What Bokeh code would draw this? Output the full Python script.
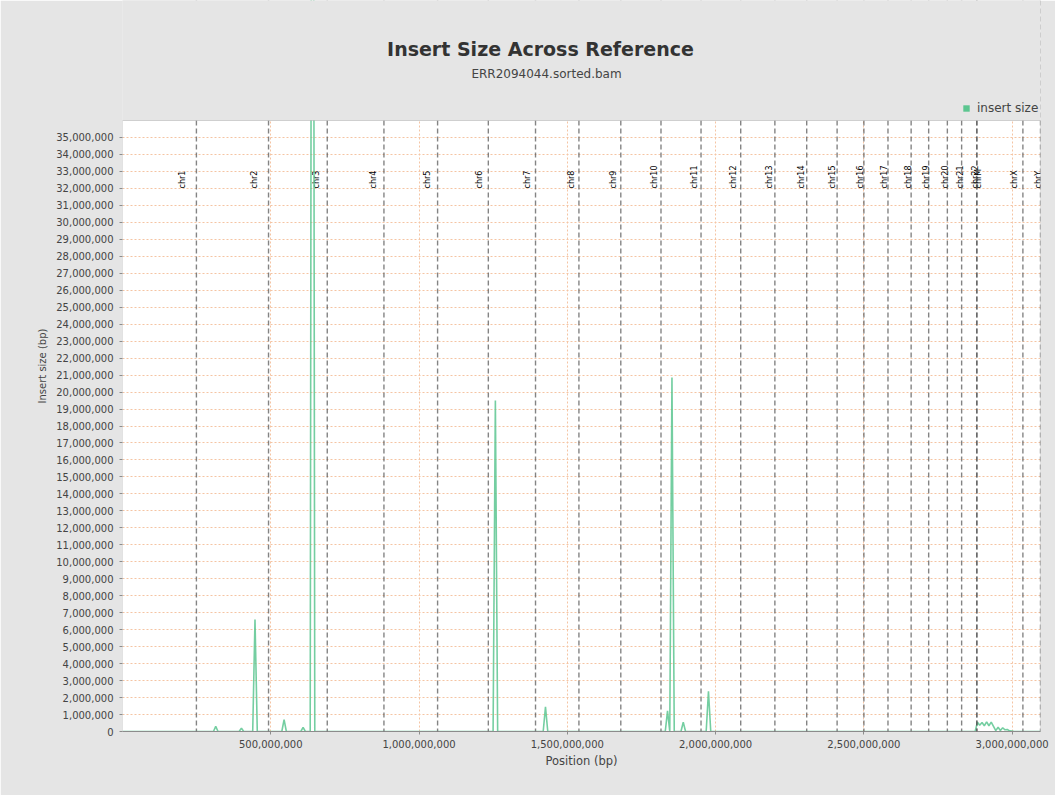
import numpy as np
from bokeh.plotting import figure
from bokeh.models import (ColumnDataSource, Range1d, FixedTicker, NumeralTickFormatter,
                          Span, Label, Legend, LegendItem, BoxAnnotation)
from bokeh.core.properties import value
from bokeh.embed import file_html
from bokeh.resources import INLINE

# ---------------- data ----------------
chrom_names = ["chr1", "chr2", "chr3", "chr4", "chr5", "chr6", "chr7", "chr8", "chr9",
               "chr10", "chr11", "chr12", "chr13", "chr14", "chr15", "chr16", "chr17",
               "chr18", "chr19", "chr20", "chr21", "chr22", "chrM", "chrX", "chrY"]
chrom_lengths = [249250621, 243199373, 198022430, 191154276, 180915260, 171115067,
                 159138663, 146364022, 141213431, 135534747, 135006516, 133851895,
                 115169878, 107349540, 102531392, 90354753, 81195210, 78077248,
                 59128983, 63025520, 48129895, 51304566, 16571, 155270560, 59373566]

# window position (Mb) and mean insert size (bp)
position_mb = [0.0,
               306.7, 314.4, 322.1,
               393.3, 401.1, 408.8,
               439.1, 446.8, 454.5,
               537.2, 544.9, 552.6,
               601.3, 609.0, 616.7,
               633.0, 640.7, 648.4,
               1249.7, 1257.4, 1265.1,
               1418.7, 1426.4, 1434.1,
               1830.3, 1838.0, 1845.5, 1852.9, 1860.6,
               1883.3, 1891.0, 1898.7,
               1968.3, 1976.0, 1983.7,
               2875.3, 2883.0, 2890.7, 2898.5, 2906.2, 2914.0, 2921.7, 2929.5,
               2937.2, 2944.9, 2952.7, 2960.4, 2968.2, 2975.9, 2983.7, 2991.4,
               2999.1, 3006.9,
               3095.7]
insert_size = [0,
               0, 300000, 0,
               0, 200000, 0,
               0, 6600000, 0,
               0, 700000, 0,
               0, 250000, 0,
               0, 100000000, 0,
               0, 19500000, 0,
               0, 1450000, 0,
               0, 1220000, 0, 20850000, 0,
               0, 550000, 0,
               0, 2370000, 0,
               0, 550000, 370000, 530000, 340000, 570000, 340000, 550000,
               300000, 50000, 250000, 60000, 220000, 100000, 120000, 40000,
               30000, 0,
               0]

x_ticks = [500000000, 1000000000, 1500000000, 2000000000, 2500000000, 3000000000]
y_ticks = list(range(0, 35000001, 1000000))
y_max = 36000000
series_name = "insert size"

assert len(position_mb) == len(insert_size)

chrom_ends = np.cumsum(chrom_lengths)
chrom_starts = chrom_ends - np.array(chrom_lengths)
genome_total = float(chrom_ends[-1])
label_x = chrom_starts + 0.78 * np.array(chrom_lengths)

GREEN = "#5cc690"
FONT = "DejaVu Sans"
BG = "#e5e5e5"
AXIS = "#8c8c8c"

# ---------------- layout ----------------
W, H = 1055, 795
B_LEFT, B_RIGHT, B_BOTTOM = 122, 15, 64
PLOT_TOP_PX = 120                     # top edge of the white plot area
frame_w = W - B_LEFT - B_RIGHT
frame_h = H - B_BOTTOM
y_top = y_max * frame_h / (frame_h - PLOT_TOP_PX)   # frame reaches the canvas top

def px_to_x(px):
    return (px - B_LEFT) / frame_w * genome_total

def px_to_y(py):
    return (frame_h - py) / frame_h * y_top

p = figure(width=W, height=H,
           x_range=Range1d(0, genome_total), y_range=Range1d(0, y_top),
           output_backend="svg", toolbar_location=None,
           min_border_left=B_LEFT, min_border_right=B_RIGHT,
           min_border_top=0, min_border_bottom=B_BOTTOM)
p.background_fill_color = BG
p.border_fill_color = BG
p.outline_line_color = None
p.outline_line_alpha = 0

# white plot area, under the grid
p.add_layout(BoxAnnotation(left=0, right=genome_total, bottom=0, top=y_max,
                           fill_color="white", fill_alpha=1, line_color=None,
                           level="image"))

# axes
p.xaxis.ticker = FixedTicker(ticks=x_ticks)
p.yaxis.ticker = FixedTicker(ticks=y_ticks)
p.xaxis.formatter = NumeralTickFormatter(format="0,0")
p.yaxis.formatter = NumeralTickFormatter(format="0,0")
for ax in (p.xaxis[0], p.yaxis[0]):
    ax.axis_line_color = AXIS
    ax.major_tick_line_color = AXIS
    ax.major_tick_out = 3
    ax.major_tick_in = 0
    ax.minor_tick_line_color = None
    ax.major_label_text_font = FONT
    ax.major_label_text_font_size = "10px"
    ax.major_label_text_color = "#444444"
    ax.axis_label_text_font = FONT
    ax.axis_label_text_font_style = "normal"
    ax.axis_label_text_color = "#444444"
yax = p.yaxis[0]
yax.axis_line_color = None              # drawn by the plot outline instead
yax.axis_line_alpha = 0
yax.axis_line_width = 0
yax.bounds = (0, y_max)
yax.major_label_standoff = 6
p.xaxis.axis_label = "Position (bp)"
p.xaxis.axis_label_text_font_size = "11.5px"
p.xaxis.axis_label_standoff = 3
yax.axis_label = "Insert size (bp)"
yax.axis_label_text_font_size = "10px"
yax.axis_label_standoff = 5

# grid
p.grid.grid_line_color = "#f5c4a3"
p.grid.grid_line_dash = "2 2"
p.grid.grid_line_width = 1

# chromosome boundaries
for e in chrom_ends:
    p.add_layout(Span(location=float(e), dimension="height", line_color="#505050",
                      line_alpha=0.7, line_width=1.4, line_dash="5 3"))

# chromosome labels
lab_src = ColumnDataSource(dict(x=label_x, y=[32000000] * len(chrom_names), text=chrom_names))
p.text(x="x", y="y", text="text", source=lab_src, angle=np.pi / 2,
       text_align="left", text_baseline="middle", x_offset=2,
       text_font=value(FONT), text_font_size="8px", text_color="black")

# series
src = ColumnDataSource(dict(x=np.array(position_mb) * 1e6, y=insert_size))
p.line(x="x", y="y", source=src, line_color=GREEN, line_width=1.6, line_alpha=0.85)

# legend swatch: a zero-size box on the series' first point
sw_src = ColumnDataSource(dict(l=[src.data["x"][0]], r=[src.data["x"][0]],
                               t=[insert_size[0]], b=[insert_size[0]]))
swatch = p.quad(left="l", right="r", top="t", bottom="b", source=sw_src,
                fill_color=GREEN, line_color=None)

# grey band above the plot area (title region), then the plot outline
span_pad = genome_total * 0.2
p.add_layout(BoxAnnotation(left=-span_pad, right=genome_total + span_pad,
                           bottom=y_max, top=y_top * 1.5,
                           fill_color=BG, fill_alpha=1, line_color=None))
p.add_layout(BoxAnnotation(left=0, right=genome_total, bottom=0, top=y_max,
                           fill_alpha=0, line_color=AXIS, line_width=1))

legend = Legend(items=[LegendItem(label=series_name, renderers=[swatch])],
                location=(962 - B_LEFT, frame_h - 114.5), glyph_width=8, glyph_height=8,
                label_standoff=7, padding=0, margin=0, border_line_color=None,
                background_fill_alpha=0, label_text_font=FONT, label_text_font_size="12px",
                label_text_color="#444444", label_height=12)
p.add_layout(legend, "center")

# titles
p.add_layout(Label(x=px_to_x(540), y=px_to_y(48), text="Insert Size Across Reference",
                   text_align="center", text_baseline="middle", text_font=FONT,
                   text_font_size="19px", text_font_style="bold", text_color="#333333"))
p.add_layout(Label(x=px_to_x(546), y=px_to_y(73), text="ERR2094044.sorted.bam",
                   text_align="center", text_baseline="middle", text_font=FONT,
                   text_font_size="12px", text_color="#444444"))

open("out.html", "w").write(file_html(p, INLINE))
